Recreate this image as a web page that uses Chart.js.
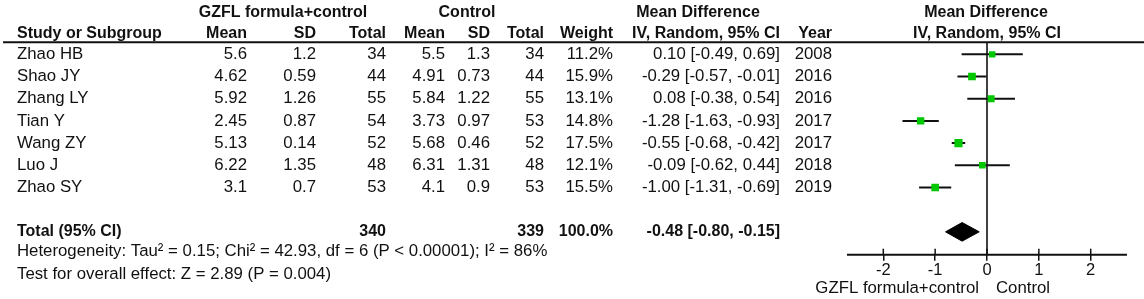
<!DOCTYPE html>
<html>
<head>
<meta charset="utf-8">
<script src="https://cdn.jsdelivr.net/npm/chart.js@4.4.1/dist/chart.umd.min.js"></script>
<style>
  html, body { margin: 0; padding: 0; background: #fff; }
  #plot { display: block; }
</style>
</head>
<body>
<canvas id="plot" width="1144" height="299"></canvas>
<script>
const studies = ['Zhao HB', 'Shao JY', 'Zhang LY', 'Tian Y', 'Wang ZY', 'Luo J', 'Zhao SY'];
const expMean = [5.6, 4.62, 5.92, 2.45, 5.13, 6.22, 3.1];
const expSD = [1.2, 0.59, 1.26, 0.87, 0.14, 1.35, 0.7];
const expTotal = [34, 44, 55, 54, 52, 48, 53];
const ctlMean = [5.5, 4.91, 5.84, 3.73, 5.68, 6.31, 4.1];
const ctlSD = [1.3, 0.73, 1.22, 0.97, 0.46, 1.31, 0.9];
const ctlTotal = [34, 44, 55, 53, 52, 48, 53];
const weights = [11.2, 15.9, 13.1, 14.8, 17.5, 12.1, 15.5];
const md = [0.10, -0.29, 0.08, -1.28, -0.55, -0.09, -1.00];
const ciLow = [-0.49, -0.57, -0.38, -1.63, -0.68, -0.62, -1.31];
const ciHigh = [0.69, -0.01, 0.54, -0.93, -0.42, 0.44, -0.69];
const years = [2008, 2016, 2016, 2017, 2017, 2018, 2019];

const totalExp = 340;
const totalCtl = 339;
const totalWeight = 100.0;
const totalMd = -0.48;
const totalLow = -0.80;
const totalHigh = -0.15;
const hetText = 'Heterogeneity: Tau\u00b2 = 0.15; Chi\u00b2 = 42.93, df = 6 (P < 0.00001); I\u00b2 = 86%';
const effectText = 'Test for overall effect: Z = 2.89 (P = 0.004)';
const tickValues = [-2, -1, 0, 1, 2];
const favoursLeft = 'GZFL formula+control';
const favoursRight = 'Control';

// row layout (in y-scale units)
const yMin = -2.19;
const yMax = 9.03;
const totalRow = 8;
const headerLineRow = -0.54;
const diamondHalf = 0.42;

const FONT = '"Liberation Sans", Arial, sans-serif';
const NORMAL = '16.8px ' + FONT;
const BOLD = 'bold 16px ' + FONT;
const green = '#00c800';

const datasets = [];

// vertical line of no effect
datasets.push({
  data: [{x: 0, y: headerLineRow}, {x: 0, y: yMax}],
  showLine: true, borderColor: '#000', borderWidth: 1.5, pointRadius: 0, order: 3
});

// confidence intervals
studies.forEach((s, i) => {
  datasets.push({
    data: [{x: ciLow[i], y: i}, {x: ciHigh[i], y: i}],
    showLine: true, borderColor: '#111', borderWidth: 2, pointRadius: 0, order: 2
  });
});

// study estimates (drawn on top)
datasets.push({
  data: md.map((v, i) => ({x: v, y: i})),
  pointStyle: 'rect',
  pointRadius: weights.map(w => (3.4 + w * 0.27) / Math.SQRT2),
  backgroundColor: green, borderColor: green, borderWidth: 0, order: 0
});

// pooled diamond
datasets.push({
  data: [
    {x: totalLow, y: totalRow},
    {x: totalMd, y: totalRow - diamondHalf},
    {x: totalHigh, y: totalRow},
    {x: totalMd, y: totalRow + diamondHalf},
    {x: totalLow, y: totalRow}
  ],
  showLine: true, fill: 'shape', backgroundColor: '#000',
  borderColor: '#000', borderWidth: 1, pointRadius: 0, order: 1
});

const tablePlugin = {
  id: 'table',
  afterDraw(chart) {
    const ctx = chart.ctx;
    const xs = chart.scales.x;
    const ys = chart.scales.y;
    const Y = r => ys.getPixelForValue(r);
    ctx.save();
    ctx.fillStyle = '#111';
    ctx.textBaseline = 'middle';

    const put = (t, x, r, align, bold) => {
      ctx.font = bold ? BOLD : NORMAL;
      ctx.textAlign = align;
      ctx.fillText(t, x, Y(r));
    };

    // headers
    put('GZFL formula+control', 283, -1.9, 'center', true);
    put('Control', 467, -1.9, 'center', true);
    put('Mean Difference', 698, -1.9, 'center', true);
    put('Mean Difference', 986, -1.9, 'center', true);
    put('Study or Subgroup', 17, -0.95, 'left', true);
    put('Mean', 247, -0.95, 'right', true);
    put('SD', 316, -0.95, 'right', true);
    put('Total', 386, -0.95, 'right', true);
    put('Mean', 445, -0.95, 'right', true);
    put('SD', 490, -0.95, 'right', true);
    put('Total', 544, -0.95, 'right', true);
    put('Weight', 613, -0.95, 'right', true);
    put('IV, Random, 95% CI', 780, -0.95, 'right', true);
    put('Year', 832, -0.95, 'right', true);
    put('IV, Random, 95% CI', 987, -0.95, 'center', true);

    ctx.strokeStyle = '#111';
    ctx.lineWidth = 2;
    ctx.beginPath();
    ctx.moveTo(3, Y(headerLineRow));
    ctx.lineTo(1144, Y(headerLineRow));
    ctx.stroke();

    studies.forEach((s, i) => {
      put(s, 17, i, 'left');
      put(String(expMean[i]), 247, i, 'right');
      put(String(expSD[i]), 316, i, 'right');
      put(String(expTotal[i]), 386, i, 'right');
      put(String(ctlMean[i]), 445, i, 'right');
      put(String(ctlSD[i]), 490, i, 'right');
      put(String(ctlTotal[i]), 544, i, 'right');
      put(weights[i].toFixed(1) + '%', 613, i, 'right');
      put(md[i].toFixed(2) + ' [' + ciLow[i].toFixed(2) + ', ' + ciHigh[i].toFixed(2) + ']', 780, i, 'right');
      put(String(years[i]), 832, i, 'right');
    });

    put('Total (95% CI)', 17, totalRow, 'left', true);
    put(String(totalExp), 386, totalRow, 'right', true);
    put(String(totalCtl), 544, totalRow, 'right', true);
    put(totalWeight.toFixed(1) + '%', 613, totalRow, 'right', true);
    put(totalMd.toFixed(2) + ' [' + totalLow.toFixed(2) + ', ' + totalHigh.toFixed(2) + ']', 780, totalRow, 'right', true);
    put(hetText, 17, totalRow + 0.9, 'left');
    put(effectText, 17, totalRow + 1.9, 'left');

    // axis line and upward halves of ticks
    const ay = Y(yMax);
    ctx.lineWidth = 2;
    ctx.beginPath();
    ctx.moveTo(xs.getPixelForValue(xs.min), ay);
    ctx.lineTo(xs.getPixelForValue(xs.max), ay);
    ctx.stroke();
    ctx.lineWidth = 1.5;
    tickValues.forEach(v => {
      const px = xs.getPixelForValue(v);
      ctx.beginPath();
      ctx.moveTo(px, ay - 6);
      ctx.lineTo(px, ay);
      ctx.stroke();
    });

    // favours labels
    const zx = xs.getPixelForValue(0);
    ctx.font = NORMAL;
    ctx.textBaseline = 'middle';
    ctx.textAlign = 'right';
    ctx.fillText(favoursLeft, zx - 8, 288);
    ctx.textAlign = 'left';
    ctx.fillText(favoursRight, zx + 9, 288);
    ctx.restore();
  }
};

new Chart(document.getElementById('plot'), {
  type: 'scatter',
  data: { datasets },
  options: {
    responsive: false,
    animation: false,
    devicePixelRatio: 1,
    layout: { padding: { left: 847, right: 17, top: 0, bottom: 18.5 } },
    plugins: { legend: { display: false }, tooltip: { enabled: false } },
    scales: {
      x: {
        type: 'linear', min: -2.7, max: 2.7,
        afterBuildTicks: s => { s.ticks = tickValues.map(v => ({ value: v })); },
        grid: { display: true, drawOnChartArea: false, drawTicks: true, tickLength: 6, color: '#111', lineWidth: 1.5 },
        border: { display: false },
        ticks: { color: '#111', padding: 0, font: { family: FONT, size: 16.5 }, maxRotation: 0 }
      },
      y: {
        type: 'linear', display: false, reverse: true, min: yMin, max: yMax
      }
    }
  },
  plugins: [tablePlugin]
});
</script>
</body>
</html>
